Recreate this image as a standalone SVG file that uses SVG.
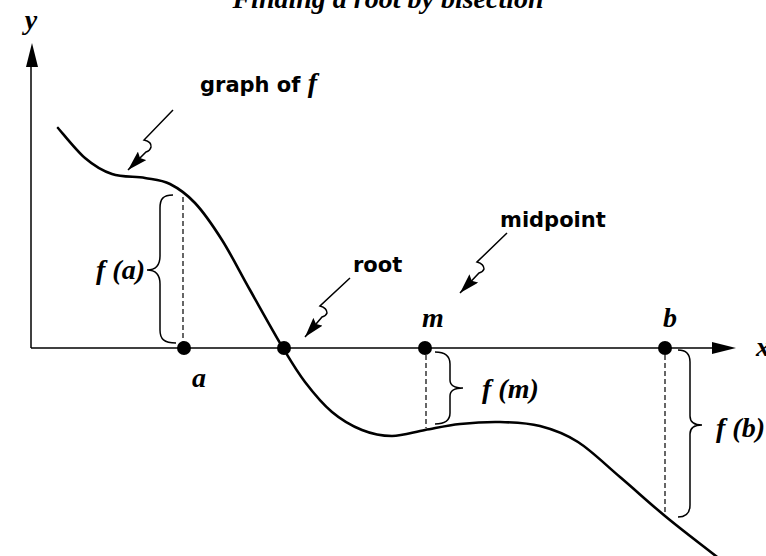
<svg xmlns="http://www.w3.org/2000/svg" width="766" height="556" viewBox="0 0 766 556">
<style>
.ax{stroke:#000;stroke-width:1.5;fill:none}
.crv{stroke:#000;stroke-width:2.6;fill:none;stroke-linecap:round}
.dash{stroke:#000;stroke-width:1.2;stroke-dasharray:5 3;fill:none}
.br{stroke:#000;stroke-width:1.5;fill:none}
.ptr{stroke:#000;stroke-width:1.5;fill:none;marker-end:url(#ah)}
.it{font-family:"Liberation Serif","Times New Roman",serif;font-style:italic;font-weight:bold;font-size:28px;fill:#000}
.sb{font-family:"DejaVu Sans",sans-serif;font-weight:bold;font-size:21px;fill:#000}
.dot{fill:#000}
</style>
<defs>
<marker id="ah" viewBox="0 0 20 12" refX="20" refY="6" markerWidth="20" markerHeight="12" markerUnits="userSpaceOnUse" orient="auto">
<path d="M0,0 L20,6 L0,12 L3,6 z" fill="#000"/>
</marker>
</defs>
<rect width="766" height="556" fill="#fff"/>
<text class="it" x="388" y="8" text-anchor="middle" font-size="31">Finding a root by bisection</text>
<g id="axes">
<line class="ax" x1="31" y1="348" x2="31" y2="62"/>
<polygon points="32,43 26,67 38,67" fill="#000"/>
<line class="ax" x1="31" y1="348" x2="715" y2="348"/>
<polygon points="736,348 712,342 712,354" fill="#000"/>
<text class="it" x="31" y="29" text-anchor="middle">y</text>
<text class="it" x="756" y="356">x</text>
</g>
<g id="curve">
<path class="crv" d="M58,128 C62.5,133 76,150.3 85,158 C94,165.7 102,170.7 112,174 C122,177.3 135.3,176.3 145,178 C154.7,179.7 161.7,179.8 170,184 C178.3,188.2 186.3,193.7 195,203 C203.7,212.3 212.8,225.5 222,240 C231.2,254.5 239.8,272 250,290 C260.2,308 273.8,332.7 283,348 C292.2,363.3 296.8,371.3 305,382 C313.2,392.7 322.5,404 332,412 C341.5,420 352,426 362,430 C372,434 381.5,436 392,436 C402.5,436 413.7,432 425,430 C436.3,428 447.5,425.3 460,424 C472.5,422.7 486.7,421.7 500,422 C513.3,422.3 527,422.7 540,426 C553,429.3 564.7,433.5 578,442 C591.3,450.5 605.5,464.7 620,477 C634.5,489.3 649.7,503.3 665,516 C680.3,528.7 696.2,540.7 712,553 C727.8,565.3 752,583.8 760,590"/>
</g>
<g id="connectors">
<line class="dash" x1="183" y1="197" x2="183" y2="342"/>
<line class="dash" x1="426" y1="355" x2="426" y2="428"/>
<line class="dash" x1="665" y1="355" x2="665" y2="516"/>
<path class="ptr" d="M173,110 L144,140 Q152,142 151,147 Q150,151 146,152 L128,170"/>
<path class="ptr" d="M350,278 L320,306 Q327,308 327,313 Q326,316 322,317 L305,337"/>
<path class="ptr" d="M507,233 L477,262 Q484,264 484,269 Q483,272 479,273 L460,293"/>
</g>
<g id="point-a">
<circle class="dot" cx="184" cy="348" r="7"/>
<text class="it" x="199" y="387" text-anchor="middle">a</text>
</g>
<g id="point-root">
<circle class="dot" cx="284" cy="348" r="7"/>
</g>
<g id="point-m">
<circle class="dot" cx="425" cy="348" r="7"/>
<text class="it" x="433" y="327" text-anchor="middle">m</text>
</g>
<g id="point-b">
<circle class="dot" cx="665" cy="348" r="7"/>
<text class="it" x="670" y="327" text-anchor="middle">b</text>
</g>
<g id="brace-fa">
<path class="br" d="M173,195 C163,195 160,199 160,208 L160,256 C160,265 156,270 147,270 C156,270 160,275 160,284 L160,330 C160,339 164,343 176,343"/>
<text class="it" x="96" y="279">f (a)</text>
</g>
<g id="brace-fm">
<path class="br" d="M435,352 C445,352 450,356 450,364 L450,380 C450,385 454,388 463,388 C454,388 450,391 450,396 L450,413 C450,420 445,424 435,424"/>
<text class="it" x="482" y="398">f (m)</text>
</g>
<g id="brace-fb">
<path class="br" d="M678,350 C686,350 690,354 690,362 L690,416 C690,422 694,425 702,425 C694,425 690,428 690,434 L690,505 C690,513 686,517 678,517"/>
<text class="it" x="716" y="437">f (b)</text>
</g>
<g id="label-graph">
<text class="sb" x="200" y="92">graph of <tspan class="it">f</tspan></text>
</g>
<g id="label-root">
<text class="sb" x="353" y="272">root</text>
</g>
<g id="label-midpoint">
<text class="sb" x="500" y="227">midpoint</text>
</g>
</svg>
